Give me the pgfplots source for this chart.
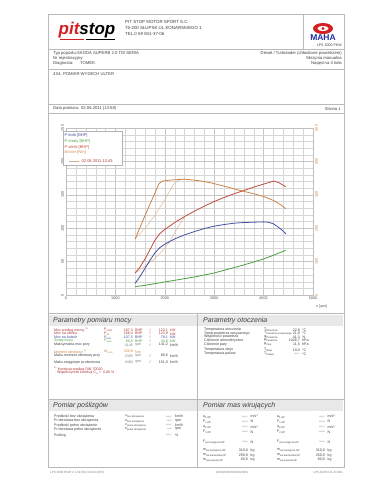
\documentclass[border=0pt]{standalone}
\usepackage{pgfplots}
\pgfplotsset{compat=1.18}
\usepackage{fontspec}
\setmainfont{Liberation Sans}
\definecolor{cblue}{HTML}{4450A0}
\definecolor{cgreen}{HTML}{4E9E44}
\definecolor{cred}{HTML}{C04A3C}
\definecolor{corange}{HTML}{CC8446}
\definecolor{ccomp}{HTML}{D6B08C}
\definecolor{dred}{HTML}{B03434}
\definecolor{logored}{HTML}{D42020}
\definecolor{mahablue}{HTML}{2030A0}
\definecolor{txt}{HTML}{404040}
\newcommand{\fs}[1]{\fontsize{#1}{#1}\selectfont}
\begin{document}
\begin{tikzpicture}[x=1pt,y=-1pt]
\fill[white] (0,0) rectangle (370,480);
% frame and separators
\draw[gray!55,line width=0.4pt] (48,14) rectangle (344,467);
\draw[gray!55,line width=0.4pt] (48,49) -- (344,49);
\draw[gray!55,line width=0.4pt] (303,14) -- (303,49);
\draw[gray!55,line width=0.4pt] (48,69) -- (344,69);
\draw[gray!55,line width=0.4pt] (48,104) -- (344,104);
\draw[gray!55,line width=0.4pt] (48,113) -- (344,113);
\draw[gray!55,line width=0.4pt] (48,313) -- (344,313);
\fill[gray!18] (49,315) rectangle (196.5,326);
\fill[gray!18] (197.5,315) rectangle (343,326);
\draw[gray!55,line width=0.4pt] (48,399) -- (344,399);
\fill[gray!18] (49,400) rectangle (196.5,411);
\fill[gray!18] (197.5,400) rectangle (343,411);
\draw[gray!55,line width=0.4pt] (197,313) -- (197,467);
% header logos
\node[font=\fs{17}\bfseries\itshape,inner sep=0] at (87,30) {\textcolor{logored}{pit}\textcolor{black}{stop}};
\draw[logored,line width=0.8pt] (60,39.5) -- (84,39.5);
\draw[black,line width=0.8pt] (86,39.5) -- (115,39.5);
\fill[logored] (323,28.5) ellipse (10 and 5.5);
\fill[white] (323,28.5) ellipse (5.5 and 2.6);
\fill[logored] (323,28.5) circle (1.6);
\node[font=\fs{8.5}\bfseries,text=mahablue,inner sep=0] at (323,37.5) {MAHA};
\node[font=\fs{3.6},text=txt,anchor=east,inner sep=0] at (342,45.5) {LPS 3000 PKW};
\begin{scope}[every node/.style={font=\fs{4.4},text=txt,anchor=west,inner sep=0}]
\node at (125,22) {PIT STOP MOTOR SPORT S.C.};
\node at (125,28) {76-200 SŁUPSK UL.KONARSKIEGO 1};
\node at (125,34) {TEL.0 59 841-37-06};
\end{scope}
\begin{scope}[every node/.style={font=\fs{4.2},text=txt,inner sep=0}]
\node[anchor=west] at (53,53) {Typ pojazdu:};
\node[anchor=west] at (77,53) {SKODA SUPERB 2.0 TDI SERIA};
\node[anchor=west] at (53,58) {Nr rejestracyjny:};
\node[anchor=west] at (53,63) {Diagnosta:};
\node[anchor=west] at (80,63) {TOMEK};
\node[anchor=east] at (342,53) {Diesel / Turbolader (chłodzone powietrzem)};
\node[anchor=east] at (342,58) {Skrzynia manualna};
\node[anchor=east] at (342,63) {Napęd na 4 koła};
\node[anchor=west] at (53,74) {4X4, POMIAR WYDECH ULTER};
\node[anchor=west] at (53,108.7) {Data pomiaru: 02.06.2011 (13:58)};
\node[anchor=east] at (341,108.7) {Strona 1};
\end{scope}
% chart
\begin{axis}[
  at={(66pt,-295pt)}, anchor=south west,
  width=247pt, height=167pt, scale only axis,
  xmin=0, xmax=5000, ymin=0, ymax=250,
  xtick={0,1000,...,5000}, ytick={0,50,...,250},
  minor x tick num=4, minor y tick num=4,
  grid=both,
  major grid style={gray!45,line width=0.3pt},
  minor grid style={gray!32,line width=0.25pt},
  axis line style={gray!50,line width=0.3pt},
  major tick length=0pt, minor tick length=0pt,
  tick label style={font=\fs{3.8},text=gray!70!black},
  /pgf/number format/assume math mode=true,
  /pgf/number format/set thousands separator={},
  yticklabel style={rotate=90,anchor=south,inner sep=2pt},
  xticklabel style={inner sep=2pt},
  clip=false,
]
\addplot[ccomp,line width=0.4pt] coordinates {(1400,33)(1600,43)(1800,55)(1900,62)(2000,70)(2100,80)(2200,93)(2300,106)(2400,117.5)};
\addplot[cgreen,line width=0.8pt] coordinates {(1400,12.5)(1600,14.5)(1800,17)(2000,19.5)(2200,22)(2400,24.5)(2600,27)(2800,30)(3000,33)(3200,37)(3400,41)(3600,45)(3800,49.5)(4000,54)(4200,59.5)(4450,67)};
\addplot[cblue,line width=0.8pt] coordinates {(1400,17.5)(1500,28)(1600,40)(1700,52)(1800,63)(1900,71)(2000,76)(2200,84)(2400,90)(2600,95)(2800,99.5)(3000,103)(3200,105.5)(3400,107.5)(3600,108.5)(3800,109)(4000,109.5)(4100,109)(4200,106.5)(4300,101.5)(4400,95.5)(4450,91.5)};
\addplot[cred,line width=0.8pt] coordinates {(1400,33)(1500,42)(1600,54)(1700,68)(1800,82)(1900,92)(2000,98)(2200,108.5)(2400,117.5)(2600,125.5)(2800,133)(3000,140)(3200,146)(3400,151.5)(3600,156.5)(3800,161.5)(4000,166)(4200,170.5)(4300,168.5)(4450,162)};
\node[anchor=west,font=\fs{3.6},text=gray!70!black,inner sep=0] at (axis cs:5060,-18) {n [rpm]};
\end{axis}
\begin{axis}[
  at={(66pt,-295pt)}, anchor=south west,
  width=247pt, height=167pt, scale only axis,
  xmin=0, xmax=5000, ymin=0, ymax=500,
  axis y line*=right, axis x line=none,
  ytick={0,100,...,500},
  axis line style={draw=none},
  major tick length=0pt, minor tick length=0pt,
  tick label style={font=\fs{3.8},text=corange},
  /pgf/number format/assume math mode=true,
  yticklabel style={rotate=90,anchor=north,inner sep=2pt},
]
\addplot[ccomp,line width=0.4pt] coordinates {(1400,168)(1600,200)(1800,238)(1900,262)(2000,285)(2100,312)(2200,336)(2300,345)(2400,347)};
\addplot[corange,line width=0.8pt] coordinates {(1400,168)(1500,203)(1600,238)(1700,272)(1800,305)(1880,333)(1950,341)(2100,344)(2400,347)(2700,342)(2900,337)(3200,326)(3500,314)(3800,303)(4000,295)(4200,283)(4350,270)(4450,258)};
\end{axis}
% legend
\draw[gray!60,fill=white,line width=0.3pt] (63,131.5) rectangle (122,165);
\begin{scope}[every node/.style={font=\fs{4},anchor=west,inner sep=0}]
\node[text=cblue] at (64.5,135.5) {P-koło [BHP]};
\node[text=cgreen] at (64.5,141.3) {P-straty [BHP]};
\node[text=cred] at (64.5,147.1) {P-silnik [BHP]};
\node[text=corange] at (64.5,152.9) {M-corr [Nm]};
\node[text=dred] at (81.5,161.5) {02.06.2011 12:43};
\end{scope}
\draw[ccomp,line width=0.5pt] (69,161.5) -- (79,161.5);
% section titles
\begin{scope}[every node/.style={font=\fs{7}\itshape,text=txt,anchor=west,inner sep=0}]
\node at (53,320.5) {Parametry pomiaru mocy};
\node at (203,320.5) {Parametry otoczenia};
\node at (53,405.5) {Pomiar poślizgów};
\node at (203,405.5) {Pomiar mas wirujących};
\end{scope}
% table: power parameters
\begin{scope}[every node/.style={font=\fs{3.6},inner sep=0}]
\node[anchor=west,text=dred] at (54,330) {Moc według normy \textsuperscript{1)}};
\node[anchor=west,text=dred] at (54,333.7) {Moc na silniku};
\node[anchor=west,text=cblue] at (54,337.4) {Moc na kołach};
\node[anchor=west,text=cgreen] at (54,341.1) {Straty mocy};
\node[anchor=west,text=txt] at (54,344.8) {Maksymalna moc przy};
\node[anchor=west,text=corange] at (54,351.8) {Moment obrotowy \textsuperscript{1)}};
\node[anchor=west,text=txt] at (54,355.8) {Maks.moment obrotowy przy};
\node[anchor=west,text=txt] at (54,362.3) {Maks.osiągnięte pr.obrotowa};
\node[anchor=west,text=dred] at (54,368.5) {\textsuperscript{1)} Korekcja według DIN 70020};
\node[anchor=west,text=dred] at (57,372.5) {Współczynnik korekcji C\textsubscript{o} = \ 0,00 \%};
\node[anchor=west,text=dred] at (104,330) {P\textsubscript{norm}};
\node[anchor=west,text=dred] at (104,333.7) {P\textsubscript{sil}};
\node[anchor=west,text=cblue] at (104,337.4) {P\textsubscript{koło}};
\node[anchor=west,text=cgreen] at (104,341.1) {P\textsubscript{strat}};
\node[anchor=west,text=corange] at (104,351.8) {M\textsubscript{norm}};
\node[anchor=east,text=dred] at (133,330) {167,3};
\node[anchor=east,text=dred] at (133,333.7) {168,4};
\node[anchor=east,text=cblue] at (133,337.4) {107,5};
\node[anchor=east,text=cgreen] at (133,341.1) {60,9};
\node[anchor=east,text=gray] at (133,344.8) {4145};
\node[anchor=east,text=corange] at (133,351.8) {339,8};
\node[anchor=east,text=gray] at (133,355.8) {2393};
\node[anchor=east,text=gray] at (133,362.3) {4480};
\node[anchor=west,text=dred] at (135,330) {BHP};
\node[anchor=west,text=dred] at (135,333.7) {BHP};
\node[anchor=west,text=cblue] at (135,337.4) {BHP};
\node[anchor=west,text=cgreen] at (135,341.1) {BHP};
\node[anchor=west,text=gray] at (135,344.8) {rpm};
\node[anchor=west,text=corange] at (135,351.8) {Nm};
\node[anchor=west,text=gray] at (135,355.8) {rpm};
\node[anchor=west,text=gray] at (135,362.3) {rpm};
\foreach \yy/\cc in {330/dred,333.7/dred,337.4/cblue,341.1/cgreen,344.8/txt,355.8/txt,362.3/txt}{\node[text=\cc] at (150,\yy) {/};}
\node[anchor=east,text=dred] at (168,330) {123,1};
\node[anchor=east,text=dred] at (168,333.7) {123,9};
\node[anchor=east,text=cblue] at (168,337.4) {79,1};
\node[anchor=east,text=cgreen] at (168,341.1) {44,8};
\node[anchor=east,text=txt] at (168,344.8) {141,2};
\node[anchor=east,text=txt] at (168,355.8) {80,6};
\node[anchor=east,text=txt] at (168,362.3) {151,0};
\node[anchor=west,text=dred] at (170,330) {kW};
\node[anchor=west,text=dred] at (170,333.7) {kW};
\node[anchor=west,text=cblue] at (170,337.4) {kW};
\node[anchor=west,text=cgreen] at (170,341.1) {kW};
\node[anchor=west,text=txt] at (170,344.8) {km/h};
\node[anchor=west,text=txt] at (170,355.8) {km/h};
\node[anchor=west,text=txt] at (170,362.3) {km/h};
% environment
\node[anchor=west,text=txt] at (204,330) {Temperatura otoczenia};
\node[anchor=west,text=txt] at (204,333.5) {Temp.powietrza zasysanego};
\node[anchor=west,text=txt] at (204,337) {Wilgotność powietrza};
\node[anchor=west,text=txt] at (204,340.5) {Ciśnienie atmosferyczne};
\node[anchor=west,text=txt] at (204,344.2) {Ciśnienie pary};
\node[anchor=west,text=txt] at (204,350) {Temperatura oleju};
\node[anchor=west,text=txt] at (204,353.8) {Temperatura paliwa};
\node[anchor=west,text=txt] at (264,330) {T\textsubscript{Otoczenia}};
\node[anchor=west,text=txt] at (264,333.5) {T\textsubscript{Powietrza zasysanego}};
\node[anchor=west,text=txt] at (264,337) {φ\textsubscript{Powietrza}};
\node[anchor=west,text=txt] at (264,340.5) {p\textsubscript{Powietrza}};
\node[anchor=west,text=txt] at (264,344.2) {p\textsubscript{Pary}};
\node[anchor=west,text=txt] at (264,350) {T\textsubscript{Oleju}};
\node[anchor=west,text=txt] at (264,353.8) {T\textsubscript{Paliwa}};
\node[anchor=east,text=txt] at (300,330) {22,8};
\node[anchor=east,text=txt] at (300,333.5) {21,0};
\node[anchor=east,text=txt] at (300,337) {41,3};
\node[anchor=east,text=txt] at (300,340.5) {1026,7};
\node[anchor=east,text=txt] at (300,344.2) {11,5};
\node[anchor=east,text=txt] at (300,350) {19,0};
\node[anchor=east,text=txt] at (300,353.8) {---,-};
\node[anchor=west,text=txt] at (302,330) {°C};
\node[anchor=west,text=txt] at (302,333.5) {°C};
\node[anchor=west,text=txt] at (302,337) {\%};
\node[anchor=west,text=txt] at (302,340.5) {hPa};
\node[anchor=west,text=txt] at (302,344.2) {hPa};
\node[anchor=west,text=txt] at (302,350) {°C};
\node[anchor=west,text=txt] at (302,353.8) {°C};
% slip
\node[anchor=west,text=txt] at (54,416.7) {Prędkość bez obciążenia};
\node[anchor=west,text=txt] at (54,420.9) {Pr.obrotowa bez obciążenia};
\node[anchor=west,text=txt] at (54,425.1) {Prędkość pełne obciążenie};
\node[anchor=west,text=txt] at (54,429.3) {Pr.obrotowa pełne obciążenie};
\node[anchor=west,text=txt] at (54,435.3) {Poślizg};
\node[anchor=west,text=txt] at (125,416.7) {v\textsubscript{bez obciążenia}};
\node[anchor=west,text=txt] at (125,420.9) {n\textsubscript{bez obciążenia}};
\node[anchor=west,text=txt] at (125,425.1) {v\textsubscript{pełne obciążenie}};
\node[anchor=west,text=txt] at (125,429.3) {n\textsubscript{pełne obciążenie}};
\node[anchor=east,text=txt] at (172,416.7) {---,-};
\node[anchor=east,text=txt] at (172,420.9) {----};
\node[anchor=east,text=txt] at (172,425.1) {---,-};
\node[anchor=east,text=txt] at (172,429.3) {----};
\node[anchor=east,text=txt] at (172,435.3) {---,-};
\node[anchor=west,text=txt] at (175,416.7) {km/h};
\node[anchor=west,text=txt] at (175,420.9) {rpm};
\node[anchor=west,text=txt] at (175,425.1) {km/h};
\node[anchor=west,text=txt] at (175,429.3) {rpm};
\node[anchor=west,text=txt] at (175,435.3) {\%};
% rotating masses
\foreach \xl/\xv/\xu/\sfx in {203/248/250.5/L,277/325/327.5/P}{
\node[anchor=west,text=txt] at (\xl,416.7) {a\textsubscript{1,OP}};
\node[anchor=west,text=txt] at (\xl,421.5) {F\textsubscript{1,OP}};
\node[anchor=west,text=txt] at (\xl,427.3) {a\textsubscript{2,OP}};
\node[anchor=west,text=txt] at (\xl,432.1) {F\textsubscript{2,OP}};
\node[anchor=west,text=txt] at (\xl,441.8) {F\textsubscript{wir.zastępcze,OP}};
\node[anchor=west,text=txt] at (\xl,450.6) {m\textsubscript{wir.zastępcze,OP}};
\node[anchor=west,text=txt] at (\xl,455.2) {m\textsubscript{wir.elementów,OP}};
\node[anchor=west,text=txt] at (\xl,459.8) {m\textsubscript{wir.pojazdu,OP}};
\node[anchor=east,text=txt] at (\xv,416.7) {---,-};
\node[anchor=east,text=txt] at (\xv,421.5) {-----};
\node[anchor=east,text=txt] at (\xv,427.3) {---,-};
\node[anchor=east,text=txt] at (\xv,432.1) {-----};
\node[anchor=east,text=txt] at (\xv,441.8) {-----};
\node[anchor=east,text=txt] at (\xv,450.6) {310,0};
\node[anchor=east,text=txt] at (\xv,455.2) {250,0};
\node[anchor=east,text=txt] at (\xv,459.8) {60,0};
\node[anchor=west,text=txt] at (\xu,416.7) {m/s²};
\node[anchor=west,text=txt] at (\xu,421.5) {N};
\node[anchor=west,text=txt] at (\xu,427.3) {m/s²};
\node[anchor=west,text=txt] at (\xu,432.1) {N};
\node[anchor=west,text=txt] at (\xu,441.8) {N};
\node[anchor=west,text=txt] at (\xu,450.6) {kg};
\node[anchor=west,text=txt] at (\xu,455.2) {kg};
\node[anchor=west,text=txt] at (\xu,459.8) {kg};
}
\end{scope}
% footer
\begin{scope}[every node/.style={font=\fs{3},text=gray,inner sep=0}]
\node[anchor=west] at (50,472.5) {LPS 3000 PKW V 1.09.081 (18.03.2007)};
\node at (232,472.5) {(1069/6/0030/0040/000)};
\node[anchor=east] at (343,472.5) {LPS-EURO 11.20.001};
\end{scope}
\end{tikzpicture}
\end{document}
